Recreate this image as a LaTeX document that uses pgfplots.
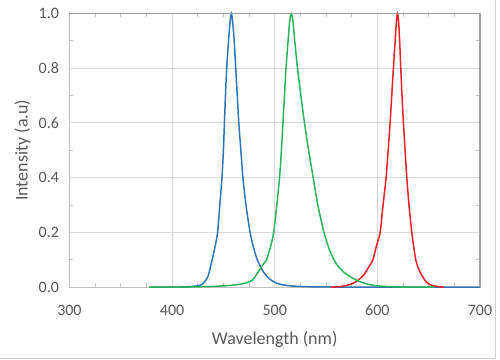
\documentclass[border=0pt]{standalone}
\usepackage{pgfplots}
\pgfplotsset{compat=1.18}
\usepackage{fontspec}
\setmainfont{Carlito}
\definecolor{tickgray}{RGB}{89,89,89}
\definecolor{gridgray}{RGB}{217,217,217}
\definecolor{axgray}{RGB}{191,191,191}
\definecolor{darkax}{RGB}{160,160,160}
\definecolor{bluec}{RGB}{46,117,182}
\definecolor{greenc}{RGB}{40,178,90}
\definecolor{redc}{RGB}{236,32,40}
\begin{document}
\begin{tikzpicture}[x=1bp,y=1bp]
\path (0,0) rectangle (500,359);
\draw[axgray!70,line width=1bp] (495,359) -- (495,1) -- (0,1);
\begin{axis}[
  at={(69bp,72bp)}, anchor=south west,
  width=411bp, height=274bp, scale only axis,
  xmin=300, xmax=700, ymin=0, ymax=1,
  xtick={300,400,...,700}, ytick={0,0.2,...,1.0},
  minor x tick num=3, minor y tick num=1,
  xticklabel style={font=\fontsize{16bp}{18bp}\selectfont, text=tickgray},
  yticklabel style={font=\fontsize{16bp}{18bp}\selectfont, text=tickgray,
     /pgf/number format/.cd, fixed, fixed zerofill, precision=1},
  /pgf/number format/assume math mode=true,
  xticklabel shift=14bp, yticklabel shift=7bp,
  grid=major, major grid style={gridgray, line width=1bp},
  major tick length=0pt, minor tick length=4bp,
  minor tick style={axgray, line width=0.8bp},
  axis line style={axgray, line width=1.2bp},
  xlabel={Wavelength (nm)}, ylabel={Intensity (a.u)},
  label style={font=\fontsize{18bp}{20bp}\selectfont, text=tickgray},
  xlabel style={at={(axis description cs:0.5,0)}, anchor=center, yshift=-52bp},
  ylabel style={at={(axis description cs:0,0.5)}, anchor=center, yshift=47bp},
  every axis plot/.append style={line width=1.5bp, smooth, tension=0.4, no markers},
  clip=false,
]
\addplot[bluec] coordinates {
(378,0) (410,0.001) (425,0.005) (430,0.013) (435,0.04) (439,0.1) (442,0.15)
(444.3,0.2) (446.5,0.3) (448.6,0.4) (450,0.5) (451,0.6) (452,0.7) (453.2,0.8)
(455,0.9) (456.5,0.97) (457.7,1.0) (459,0.97) (460.5,0.9) (462,0.8) (463.5,0.7)
(465,0.6) (467,0.5) (469,0.4) (472,0.3) (476,0.2) (479,0.15) (483,0.1)
(489,0.056) (495,0.03) (503,0.013) (515,0.005) (530,0.002) (550,0.001)
(580,0) (640,0) (700,0)};
\addplot[redc] coordinates {
(555,0) (565,0.003) (573.5,0.01) (580,0.022) (586.5,0.044) (591,0.07)
(595.6,0.1) (599,0.15) (602.7,0.2) (605.5,0.3) (608.5,0.4) (610.5,0.5)
(612.4,0.6) (614,0.7) (615.6,0.8) (617.3,0.9) (618.5,0.97) (619.5,1.0)
(620.7,0.97) (621.7,0.9) (622.8,0.8) (624,0.7) (625.4,0.6) (627,0.5)
(628.7,0.4) (630.8,0.3) (633.5,0.2) (635.3,0.15) (637.4,0.1) (640,0.068)
(643.2,0.044) (647,0.022) (651,0.01) (658,0.003) (665,0)};
\addplot[greenc] coordinates {
(378,0) (400,0) (420,0.001) (440,0.003) (455,0.006) (465,0.01) (472,0.016)
(478,0.025) (483,0.05) (488,0.08) (492,0.1) (496,0.15) (499,0.2) (502,0.3)
(504.7,0.4) (506.5,0.5) (508,0.6) (509.5,0.7) (511,0.8) (513,0.9) (514.5,0.97)
(516,1.0) (517.5,0.98) (519.5,0.9) (522.2,0.8) (525.5,0.7) (529,0.6) (533,0.5)
(537.5,0.4) (542,0.3) (548,0.2) (554,0.13) (560,0.085) (567,0.056) (575,0.035)
(583,0.02) (592,0.01) (603,0.004) (620,0.001) (640,0) (655,0)};
\draw[darkax, line width=1.2bp] (rel axis cs:0,1) -- (rel axis cs:1,1) -- (rel axis cs:1,0);
\end{axis}
\end{tikzpicture}
\end{document}
